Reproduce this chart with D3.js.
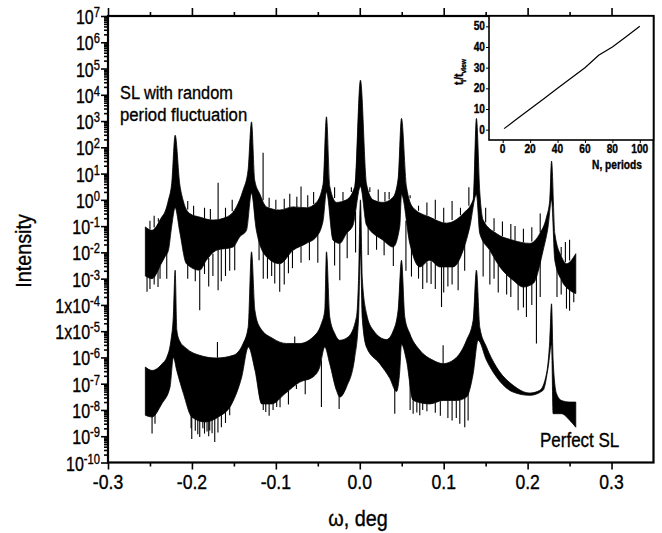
<!DOCTYPE html>
<html>
<head>
<meta charset="utf-8">
<script src="https://cdn.jsdelivr.net/npm/d3@7"></script>
<style>
body { margin: 0; background: #fff; }
text { font-family: "Liberation Sans", Arial, sans-serif; fill: #000; stroke: #000; stroke-width: 0.35px; }
</style>
</head>
<body>
<svg id="chart" width="662" height="533"></svg>
<script>
// axis ticks
var xTicks = [-0.3, -0.2, -0.1, 0.0, 0.1, 0.2, 0.3];
var xMinorTicks = [-0.25, -0.15, -0.05, 0.05, 0.15, 0.25];
var yExponents = [7, 6, 5, 4, 3, 2, 1, 0, -1, -2, -3, -4, -5, -6, -7, -8, -9, -10];
var yPrefixes = ["10", "10", "10", "10", "10", "10", "10", "10", "10", "10", "10", "1x10", "1x10", "10", "10", "10", "10", "10"];

// "Perfect SL" curve: envelope of the fringes
var perfUpperX = [-0.2555, -0.2475, -0.2350, -0.2300, -0.2250, -0.2222, -0.2200, -0.2180, -0.2150, -0.2066, -0.1907, -0.1708, -0.1510, -0.1390, -0.1330, -0.1290, -0.1250, -0.1190, -0.1033, -0.0874, -0.0715, -0.0557, -0.0457, -0.0417, -0.0397, -0.0358, -0.0298, -0.0238, -0.0139, -0.0039, -0.0015, 0.0008, 0.0030, 0.0080, 0.0159, 0.0318, 0.0397, 0.0457, 0.0497, 0.0536, 0.0596, 0.0715, 0.0874, 0.0993, 0.1152, 0.1272, 0.1351, 0.1390, 0.1430, 0.1510, 0.1629, 0.1827, 0.2026, 0.2145, 0.2225, 0.2264, 0.2285, 0.2304, 0.2344, 0.2404, 0.2503, 0.2574];
var perfUpperI = [4.3e-7, 3.2e-7, 6e-7, 1e-6, 4.5e-6, 3.5e-5, 2.1e-3, 1.1e-5, 4.5e-6, 2.2e-6, 1.2e-6, 9.5e-7, 1.2e-6, 3.4e-6, 1.4e-5, 1.05e-2, 6.3e-5, 1.4e-5, 5.2e-6, 3.4e-6, 3.4e-6, 6e-6, 1.95e-5, 6.3e-5, 1.05e-2, 3.5e-5, 8.1e-6, 4.5e-6, 6e-6, 3.5e-5, 8.7e-4, 1, 1e-3, 4.7e-5, 1.1e-5, 4.8e-6, 1e-5, 6.3e-5, 5e-3, 3.5e-5, 8.1e-6, 1.9e-6, 7.8e-7, 5.8e-7, 1e-6, 4.5e-6, 2.6e-5, 2.1e-3, 1.4e-5, 2.5e-6, 4.3e-7, 8.7e-8, 4.4e-8, 5.6e-8, 2.4e-7, 4.5e-6, 1.1e-4, 7.8e-7, 4.2e-8, 2.3e-8, 2e-8, 2e-8];
var perfLowerX = [-0.2555, -0.2475, -0.2360, -0.2261, -0.2221, -0.2181, -0.2101, -0.2002, -0.1843, -0.1685, -0.1526, -0.1407, -0.1327, -0.1248, -0.1168, -0.1049, -0.0890, -0.0715, -0.0557, -0.0477, -0.0417, -0.0358, -0.0278, -0.0238, -0.0159, -0.0060, -0.0015, 0.0008, 0.0030, 0.0080, 0.0238, 0.0358, 0.0437, 0.0477, 0.0497, 0.0556, 0.0636, 0.0834, 0.0993, 0.1152, 0.1272, 0.1351, 0.1410, 0.1510, 0.1629, 0.1827, 0.2026, 0.2185, 0.2245, 0.2285, 0.2304, 0.2404, 0.2503, 0.2574];
var perfLowerI = [6.3e-9, 5.4e-9, 1.7e-8, 7.4e-8, 1e-6, 3.2e-7, 4.2e-8, 5.4e-9, 3.5e-9, 5.4e-9, 1.7e-8, 1.8e-7, 2.5e-6, 3.2e-7, 1.7e-8, 1.7e-8, 4.2e-8, 1.15e-7, 1.8e-7, 4.3e-7, 2.5e-6, 5.8e-7, 5.6e-8, 3.1e-8, 7.4e-8, 1e-6, 3e-5, 1e-2, 3e-5, 2.5e-6, 5.8e-7, 1.6e-7, 5e-8, 3.2e-7, 3.2e-6, 7.8e-7, 2.3e-8, 1.7e-8, 2.3e-8, 2.3e-8, 3.1e-8, 2.4e-7, 4.5e-6, 7.8e-7, 1.8e-7, 4.8e-8, 3.6e-8, 5.6e-8, 4.3e-7, 3.2e-6, 7.2e-9, 7.2e-9, 4e-9, 2.2e-9];
var perfDipX = [-0.2475, -0.2440, -0.2010, -0.2002, -0.1960, -0.1930, -0.1907, -0.1870, -0.1850, -0.1820, -0.1800, -0.1788, -0.1760, -0.1728, -0.1690, -0.1649, -0.1600, -0.1550, -0.1150, -0.1120, -0.1080, -0.1033, -0.0990, -0.0950, -0.0850, -0.0755, -0.0650, -0.0457, -0.0246, 0.0417, 0.0600, 0.0636, 0.0680, 0.0715, 0.0750, 0.0800, 0.0900, 0.0960, 0.1050, 0.1100, 0.1150, 0.1192, 0.1251, 0.1291];
var perfDipI = [1.26e-9, 3e-9, 2e-9, 7.9e-10, 1.6e-9, 1.2e-9, 9.3e-10, 2e-9, 1.26e-9, 1.5e-9, 1e-9, 1.66e-9, 1.3e-9, 6e-10, 1.4e-9, 2.2e-9, 3.2e-9, 6.3e-9, 1e-8, 8.3e-9, 6e-9, 1e-8, 1.3e-8, 1.26e-8, 1.6e-8, 6.3e-8, 4e-8, 1.3e-8, 1.1e-8, 7.2e-9, 1e-8, 7.2e-9, 8e-9, 6.3e-9, 1e-8, 9e-9, 7.9e-9, 6e-9, 5e-9, 4e-9, 5e-9, 3e-9, 2.2e-9, 4e-9];
var perfPeakX = [-0.1696, -0.0775, 0.0993];
var perfPeakI = [3.9e-6, 6.3e-6, 2.9e-6];

// "SL with random period fluctuation" curve
var randUpperX = [-0.2555, -0.2475, -0.2360, -0.2321, -0.2280, -0.2241, -0.2200, -0.2146, -0.2106, -0.2026, -0.1907, -0.1749, -0.1589, -0.1470, -0.1391, -0.1331, -0.1290, -0.1252, -0.1192, -0.1112, -0.0954, -0.0795, -0.0636, -0.0517, -0.0437, -0.0397, -0.0357, -0.0278, -0.0159, -0.0060, 0.0008, 0.0080, 0.0159, 0.0278, 0.0397, 0.0457, 0.0497, 0.0556, 0.0636, 0.0834, 0.1033, 0.1232, 0.1351, 0.1390, 0.1430, 0.1470, 0.1629, 0.1827, 0.2026, 0.2145, 0.2225, 0.2264, 0.2285, 0.2324, 0.2404, 0.2463, 0.2574];
var randUpperI = [9.3e-2, 6.9e-2, 0.22, 0.35, 0.98, 4.2, 290, 4.2, 0.98, 0.3, 0.22, 0.17, 0.22, 0.54, 2.3, 13.5, 930, 5.6, 1.7, 0.54, 0.41, 0.54, 0.5, 0.8, 4, 1450, 3.2, 0.8, 1, 3.2, 3.6e4, 4, 1, 0.8, 1.26, 6.3, 1260, 3.2, 0.5, 0.22, 0.13, 0.3, 1, 1260, 2, 0.17, 5.2e-2, 2.9e-2, 2.2e-2, 5.2e-2, 0.22, 0.98, 30, 5.2e-2, 6.8e-3, 3.7e-3, 8.9e-3];
var randLowerX = [-0.2555, -0.2475, -0.2360, -0.2321, -0.2280, -0.2241, -0.2200, -0.2146, -0.2066, -0.1907, -0.1828, -0.1708, -0.1510, -0.1430, -0.1350, -0.1290, -0.1232, -0.1112, -0.0954, -0.0795, -0.0636, -0.0517, -0.0437, -0.0397, -0.0318, -0.0238, -0.0159, -0.0080, 0.0008, 0.0080, 0.0278, 0.0397, 0.0477, 0.0497, 0.0596, 0.0715, 0.0834, 0.0953, 0.1112, 0.1232, 0.1311, 0.1390, 0.1430, 0.1549, 0.1669, 0.1827, 0.1947, 0.2066, 0.2185, 0.2245, 0.2285, 0.2324, 0.2404, 0.2503, 0.2574];
var randLowerI = [1.26e-3, 1e-3, 4e-3, 6.8e-3, 1.2e-2, 0.1, 0.5, 6.3e-2, 3.7e-3, 2.1e-3, 5e-3, 1.2e-2, 1.6e-2, 3.9e-2, 6.9e-2, 1.8, 6.9e-2, 6.8e-3, 3.7e-3, 1.2e-2, 2.2e-2, 3.9e-2, 0.16, 2, 2.9e-2, 2.2e-2, 5.2e-2, 0.11, 3.2, 0.11, 2.9e-2, 1.6e-2, 0.1, 1.6, 2.2e-2, 2.8e-3, 5e-3, 2.8e-3, 2.8e-3, 1.2e-2, 9.3e-2, 1.6, 5.2e-2, 1.2e-2, 2.8e-3, 8.7e-4, 4.8e-4, 6.5e-4, 1.2e-2, 0.1, 1, 5e-3, 8.7e-4, 3.6e-4, 2.7e-4];
var randDipX = [-0.2535, -0.2500, -0.2450, -0.2404, -0.2380, -0.2300, -0.2050, -0.1960, -0.1907, -0.1850, -0.1800, -0.1750, -0.1688, -0.1650, -0.1600, -0.1550, -0.1490, -0.1200, -0.1150, -0.1100, -0.1050, -0.1013, -0.0954, -0.0900, -0.0850, -0.0802, -0.0700, -0.0600, -0.0500, -0.0300, -0.0238, -0.0150, -0.0050, 0.0100, 0.0200, 0.0290, 0.0400, 0.0550, 0.0616, 0.0700, 0.0750, 0.0800, 0.0850, 0.0900, 0.0974, 0.1000, 0.1050, 0.1100, 0.1172, 0.1250, 0.1470, 0.1550, 0.1600, 0.1650, 0.1750, 0.1800, 0.1887, 0.1950, 0.1986, 0.2050, 0.2105, 0.2150, 0.2350, 0.2400, 0.2463, 0.2500, 0.2550];
var randDipI = [3.2e-4, 4e-4, 6e-4, 4.8e-4, 1e-3, 1e-3, 1e-3, 8e-4, 6.3e-5, 1.5e-3, 5e-4, 1.26e-3, 3.6e-4, 8e-4, 1.26e-3, 2e-3, 2.1e-3, 5e-3, 1e-3, 1e-3, 1.26e-3, 6.5e-4, 3.2e-4, 6e-4, 1.6e-3, 2.5e-3, 4e-3, 5e-3, 4e-3, 3.2e-3, 8.7e-4, 6e-3, 1e-2, 8e-3, 1.26e-2, 7.8e-3, 3e-3, 2e-3, 1.2e-3, 1e-3, 4e-4, 7e-4, 6.3e-4, 4e-4, 8.3e-5, 3e-4, 5e-4, 6e-4, 3.6e-4, 2e-3, 1.2e-3, 6e-4, 1e-3, 3e-4, 2.5e-4, 2e-4, 6.3e-5, 8e-5, 3.5e-5, 1e-4, 3.4e-6, 2e-4, 2e-4, 2.5e-4, 7.2e-5, 6e-5, 1.26e-4];
var randPeakX = [-0.2500, -0.2450, -0.2400, -0.2050, -0.1980, -0.1850, -0.1780, -0.1688, -0.1600, -0.1520, -0.1152, -0.1080, -0.1000, -0.0900, -0.0834, -0.0750, -0.0700, -0.0620, -0.0550, -0.0300, -0.0200, -0.0100, 0.0120, 0.0220, 0.0300, 0.0350, 0.0600, 0.0700, 0.0800, 0.0900, 0.1000, 0.1100, 0.1200, 0.1300, 0.1500, 0.1600, 0.1700, 0.1800, 0.1850, 0.1950, 0.2050, 0.2150, 0.2400, 0.2450, 0.2500];
var randPeakI = [0.16, 0.25, 0.2, 0.9, 0.6, 0.5, 0.45, 4.5, 0.5, 1, 62, 1.2, 1, 1.1, 1.7, 1.3, 3.2, 1.5, 2, 3, 2, 3, 3, 2.5, 2, 2, 1.5, 0.6, 0.8, 1, 0.5, 0.9, 0.5, 3, 0.5, 0.2, 0.15, 0.12, 0.1, 0.08, 0.09, 0.3, 1.6e-2, 2.5e-2, 3e-2];

// inset: ratio vs number of periods
var insetN = [1, 10, 20, 30, 40, 50, 60, 70, 80, 90, 100];
var insetRatio = [0.5, 5, 10, 15, 20, 25, 30, 36, 40, 45, 50];
var insetXTicks = [0, 20, 40, 60, 80, 100];
var insetYTicks = [0, 10, 20, 30, 40, 50];

var svg = d3.select("#chart");
var mLeft = 108, mRight = 653.5, mTop = 16, mBottom = 462.5;

var x = d3.scaleLinear().domain([-0.3, 0.35]).range([mLeft, mRight]);
var y = d3.scaleLog().domain([1e-10, 1e7]).range([mBottom, mTop]);

function txt(g, px, py, s, size, sx, anchor) {
  return g.append("text")
    .attr("transform", "translate(" + px + "," + py + ") scale(" + sx + ",1)")
    .attr("font-size", size)
    .attr("text-anchor", anchor)
    .text(s);
}

// curves
var plot = svg.append("g");
var edgeLine = d3.line().curve(d3.curveMonotoneX)
  .x(function(d) { return x(d[0]); }).y(function(d) { return y(d[1]); });

function band(ux, ui, lx, li) {
  var up = ux.map(function(v, i) { return [v, ui[i]]; });
  var low = lx.map(function(v, i) { return [v, li[i]]; }).reverse();
  plot.append("path")
    .attr("d", edgeLine(up) + edgeLine(low).replace(/^M/, "L") + "Z")
    .attr("fill", "#000").attr("stroke", "#000").attr("stroke-width", 0.8);
}

function spikes(sx, si, ex, ei) {
  var edge = d3.scaleLinear().domain(ex).range(ei.map(Math.log10)).clamp(true);
  plot.selectAll(null)
    .data(sx.map(function(v, i) { return [v, si[i]]; }))
    .enter().append("line")
    .attr("x1", function(d) { return x(d[0]); })
    .attr("x2", function(d) { return x(d[0]); })
    .attr("y1", function(d) { return y(Math.pow(10, edge(d[0]))); })
    .attr("y2", function(d) { return y(d[1]); })
    .attr("stroke", "#000").attr("stroke-width", 1.1);
}

band(perfUpperX, perfUpperI, perfLowerX, perfLowerI);
spikes(perfDipX, perfDipI, perfLowerX, perfLowerI);
spikes(perfPeakX, perfPeakI, perfUpperX, perfUpperI);

band(randUpperX, randUpperI, randLowerX, randLowerI);
spikes(randDipX, randDipI, randLowerX, randLowerI);
spikes(randPeakX, randPeakI, randUpperX, randUpperI);

// axes
function styleAxis(g) {
  g.select(".domain").remove();
  g.selectAll(".tick line").attr("stroke", "#000").attr("stroke-width", 1.6);
  g.selectAll(".tick text").remove();
}

svg.append("g").attr("transform", "translate(0," + mBottom + ")")
  .call(d3.axisBottom(x).tickValues(xTicks).tickSize(7).tickFormat(""))
  .call(styleAxis);
svg.append("g").attr("transform", "translate(0," + mBottom + ")")
  .call(d3.axisBottom(x).tickValues(xMinorTicks).tickSize(4).tickFormat(""))
  .call(styleAxis);
svg.append("g").attr("transform", "translate(0," + mTop + ")")
  .call(d3.axisTop(x).tickValues(xTicks).tickSize(8).tickFormat(""))
  .call(styleAxis);
svg.append("g").attr("transform", "translate(0," + mTop + ")")
  .call(d3.axisTop(x).tickValues(xMinorTicks).tickSize(4).tickFormat(""))
  .call(styleAxis);

var yMajor = yExponents.map(function(e) { return Math.pow(10, e); });
var yMinor = [];
yExponents.slice(1).forEach(function(e) {
  [2, 3, 4, 5, 6, 7, 8, 9].forEach(function(m) { yMinor.push(m * Math.pow(10, e)); });
});
svg.append("g").attr("transform", "translate(" + mLeft + ",0)")
  .call(d3.axisLeft(y).tickValues(yMajor).tickSize(7).tickFormat(""))
  .call(styleAxis);
svg.append("g").attr("transform", "translate(" + mLeft + ",0)")
  .call(d3.axisLeft(y).tickValues(yMinor).tickSize(4).tickFormat(""))
  .call(styleAxis);

svg.append("rect")
  .attr("x", mLeft).attr("y", mTop).attr("width", mRight - mLeft).attr("height", mBottom - mTop)
  .attr("fill", "none").attr("stroke", "#000").attr("stroke-width", 2.2);

// tick labels
var labels = svg.append("g");
xTicks.forEach(function(v) {
  txt(labels, x(v), 489, v.toFixed(1), 20, 0.88, "middle");
});
yExponents.forEach(function(e, i) {
  var t = labels.append("text")
    .attr("transform", "translate(100," + (y(Math.pow(10, e)) + 8) + ") scale(0.8,1)")
    .attr("font-size", 20).attr("text-anchor", "end");
  t.append("tspan").text(yPrefixes[i]);
  t.append("tspan").attr("dy", -7).attr("font-size", 14).text(e);
});

// titles
txt(svg, 358, 526, "\u03c9, deg", 22, 0.9, "middle");
svg.append("text")
  .attr("transform", "translate(31,251) rotate(-90) scale(0.9,1)")
  .attr("font-size", 22).attr("text-anchor", "middle").text("Intensity");
txt(svg, 120, 99, "SL with random", 19, 0.86, "start");
txt(svg, 120, 121, "period fluctuation", 19, 0.88, "start");
txt(svg, 540, 447, "Perfect SL", 20, 0.85, "start");

// inset
var iLeft = 489, iRight = mRight, iTop = mTop, iBottom = 140;
var ix = d3.scaleLinear().domain([-10, 110]).range([iLeft, iRight]);
var iy = d3.scaleLinear().domain([-5, 55]).range([iBottom, iTop]);
var inset = svg.append("g");
inset.append("rect")
  .attr("x", iLeft).attr("y", iTop).attr("width", iRight - iLeft).attr("height", iBottom - iTop)
  .attr("fill", "#fff").attr("stroke", "#000").attr("stroke-width", 1.6);
inset.append("g").attr("transform", "translate(0," + iBottom + ")")
  .call(d3.axisBottom(ix).tickValues(insetXTicks).tickSize(3).tickFormat(""))
  .call(styleAxis);
inset.append("g").attr("transform", "translate(" + iLeft + ",0)")
  .call(d3.axisLeft(iy).tickValues(insetYTicks).tickSize(3).tickFormat(""))
  .call(styleAxis);
inset.selectAll(".tick line").attr("stroke-width", 1);
inset.append("path")
  .datum(insetN.map(function(n, i) { return [n, insetRatio[i]]; }))
  .attr("d", d3.line().x(function(d) { return ix(d[0]); }).y(function(d) { return iy(d[1]); }))
  .attr("fill", "none").attr("stroke", "#000").attr("stroke-width", 1.2);
insetXTicks.forEach(function(v) {
  txt(inset, ix(v), 153, String(v), 12, 0.85, "middle").attr("font-weight", "bold");
});
insetYTicks.forEach(function(v) {
  txt(inset, 485, iy(v) + 4, String(v), 12, 0.85, "end").attr("font-weight", "bold");
});
txt(inset, 617, 169, "N, periods", 12, 0.85, "middle").attr("font-weight", "bold");
var iyl = inset.append("text")
  .attr("transform", "translate(463,72) rotate(-90) scale(0.85,1)")
  .attr("font-size", 12).attr("font-weight", "bold").attr("text-anchor", "middle");
iyl.append("tspan").text("t");
iyl.append("tspan").attr("dy", 3).attr("font-size", 8).text("i");
iyl.append("tspan").attr("dy", -3).text("/t");
iyl.append("tspan").attr("dy", 3).attr("font-size", 8).text("view");
</script>
</body>
</html>
